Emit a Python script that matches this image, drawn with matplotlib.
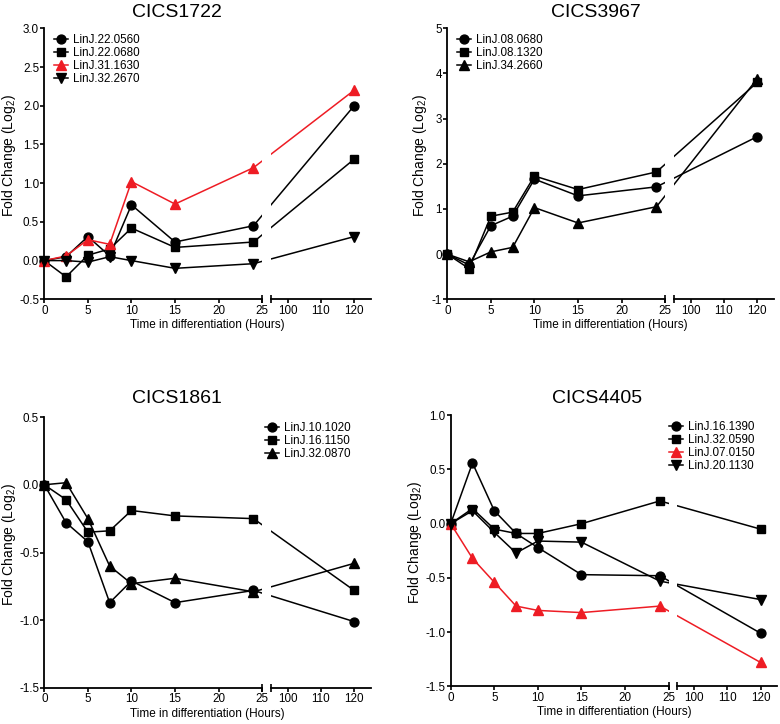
import matplotlib
matplotlib.use("Agg")
import matplotlib.pyplot as plt
import numpy as np

plt.rcParams["font.family"] = ["Liberation Sans", "DejaVu Sans"]
plt.rcParams["axes.unicode_minus"] = False
plt.rcParams["mathtext.default"] = "regular"

RED = "#ee1c24"

hours = [0, 2.5, 5, 7.5, 10, 15, 24, 120]

# CICS1722
p1_labels = ["LinJ.22.0560", "LinJ.22.0680", "LinJ.31.1630", "LinJ.32.2670"]
p1_22_0560 = [0, 0.05, 0.31, 0.06, 0.72, 0.24, 0.45, 2.0]
p1_22_0680 = [0, -0.21, 0.07, 0.15, 0.42, 0.17, 0.24, 1.31]
p1_31_1630 = [0, 0.06, 0.27, 0.21, 1.02, 0.73, 1.2, 2.2]
p1_32_2670 = [0, 0.0, -0.02, 0.05, 0.0, -0.1, -0.04, 0.31]

# CICS3967
p2_labels = ["LinJ.08.0680", "LinJ.08.1320", "LinJ.34.2660"]
p2_08_0680 = [0, -0.24, 0.63, 0.84, 1.66, 1.29, 1.49, 2.6]
p2_08_1320 = [0, -0.32, 0.84, 0.93, 1.73, 1.43, 1.82, 3.8]
p2_34_2660 = [0, -0.17, 0.05, 0.15, 1.03, 0.69, 1.05, 3.88]

# CICS1861
p3_labels = ["LinJ.10.1020", "LinJ.16.1150", "LinJ.32.0870"]
p3_10_1020 = [0, -0.28, -0.42, -0.87, -0.71, -0.87, -0.78, -1.01]
p3_16_1150 = [0, -0.11, -0.35, -0.34, -0.19, -0.23, -0.25, -0.78]
p3_32_0870 = [0, 0.015, -0.25, -0.6, -0.73, -0.69, -0.79, -0.58]

# CICS4405
p4_labels = ["LinJ.16.1390", "LinJ.32.0590", "LinJ.07.0150", "LinJ.20.1130"]
p4_16_1390 = [0, 0.56, 0.12, -0.09, -0.22, -0.47, -0.48, -1.01]
p4_32_0590 = [0, 0.14, -0.05, -0.09, -0.09, 0.0, 0.21, -0.05]
p4_07_0150 = [0, -0.32, -0.54, -0.76, -0.8, -0.82, -0.76, -1.28]
p4_20_1130 = [0, 0.12, -0.08, -0.27, -0.16, -0.17, -0.53, -0.7]

xticks = [0, 5, 10, 15, 20, 25, 100, 110, 120]

# broken x axis: 0-25 linear, short gap, then 95-125 compressed
BREAK_LO, BREAK_HI = 25, 95
GAP = 1.0
RIGHT = 0.382


def fwd(x):
    x = np.asarray(x, dtype=float)
    mid = BREAK_LO + (x - BREAK_LO) / (BREAK_HI - BREAK_LO) * GAP
    hi = BREAK_LO + GAP + (x - BREAK_HI) * RIGHT
    return np.where(x <= BREAK_LO, x, np.where(x < BREAK_HI, mid, hi))


def inv(y):
    y = np.asarray(y, dtype=float)
    mid = BREAK_LO + (y - BREAK_LO) / GAP * (BREAK_HI - BREAK_LO)
    hi = BREAK_HI + (y - BREAK_LO - GAP) / RIGHT
    return np.where(y <= BREAK_LO, y, np.where(y < BREAK_LO + GAP, mid, hi))


fig = plt.figure(figsize=(7.8, 7.24), dpi=100)
W, H = 780, 724


def make_ax(left, top, width=326.5, height=271):
    return fig.add_axes([left / W, 1 - (top + height) / H, width / W, height / H])


def style(ax, ylim, yticks, fmt, ylabel_x):
    ax.set_xscale("function", functions=(fwd, inv))
    ax.set_xlim(0, 125)
    ax.set_ylim(*ylim)
    ax.set_xticks(xticks)
    ax.set_xticklabels([str(t) for t in xticks])
    ax.set_yticks(yticks)
    ax.set_yticklabels([fmt.format(t) for t in yticks])
    for s in ["top", "right", "bottom"]:
        ax.spines[s].set_visible(False)
    ax.spines["left"].set_linewidth(1.3)
    ax.tick_params(direction="out", length=2.8, width=1.2, labelsize=8.4, pad=1)
    ax.minorticks_off()
    # hide lines crossing the break
    ax.axvspan(BREAK_LO, BREAK_HI, color="white", zorder=2.5, lw=0)
    tr = ax.get_xaxis_transform()
    for seg in ([0, BREAK_LO], [BREAK_HI, 125]):
        ax.plot(seg, [0, 0], color="black", lw=1.3, transform=tr, clip_on=False, zorder=4)
    ax.plot([BREAK_LO, BREAK_HI], [0, 0], ls="none", marker="|", ms=6, mew=1.2,
            color="black", transform=tr, clip_on=False, zorder=4)
    ax.set_xlabel("Time in differentiation (Hours)", fontsize=8.5, labelpad=2)
    ax.set_ylabel("Fold Change (Log$_2$)", fontsize=10)
    ax.yaxis.set_label_coords(ylabel_x, 0.53)


def series(ax, y, marker, label, color="black"):
    ms = 7.8 if marker in ("^", "v") else 6.4
    ax.plot(hours, y, color=color, marker=marker, ms=ms, lw=1.1, label=label,
            clip_on=False, zorder=2)


def legend(ax, loc, x, y):
    ax.legend(loc=loc, bbox_to_anchor=(x / W, 1 - y / H), bbox_transform=fig.transFigure,
              frameon=False, fontsize=8.4, handlelength=1.2, handletextpad=0.45,
              labelspacing=0.08, borderpad=0, borderaxespad=0)


# panel 1
ax1 = make_ax(44.3, 28.3)
series(ax1, p1_22_0560, "o", p1_labels[0])
series(ax1, p1_22_0680, "s", p1_labels[1])
series(ax1, p1_31_1630, "^", p1_labels[2], RED)
series(ax1, p1_32_2670, "v", p1_labels[3])
style(ax1, (-0.5, 3.0), np.arange(-0.5, 3.01, 0.5), "{:.1f}", -0.081)
legend(ax1, "upper left", 54, 34)
fig.text(177 / W, 1 - 16.7 / H, "CICS1722", ha="center", va="baseline", fontsize=14)

# panel 2
ax2 = make_ax(447.3, 28.3)
series(ax2, p2_08_0680, "o", p2_labels[0])
series(ax2, p2_08_1320, "s", p2_labels[1])
series(ax2, p2_34_2660, "^", p2_labels[2])
style(ax2, (-1, 5), np.arange(-1, 6, 1), "{:d}", -0.055)
legend(ax2, "upper left", 457, 34)
fig.text(596 / W, 1 - 17.3 / H, "CICS3967", ha="center", va="baseline", fontsize=14)

# panel 3
ax3 = make_ax(44.3, 417)
series(ax3, p3_10_1020, "o", p3_labels[0])
series(ax3, p3_16_1150, "s", p3_labels[1])
series(ax3, p3_32_0870, "^", p3_labels[2])
style(ax3, (-1.5, 0.5), np.arange(-1.5, 0.51, 0.5), "{:.1f}", -0.081)
legend(ax3, "upper right", 351, 422)
fig.text(177 / W, 1 - 402.7 / H, "CICS1861", ha="center", va="baseline", fontsize=14)

# panel 4
ax4 = make_ax(450.7, 415.3)
series(ax4, p4_16_1390, "o", p4_labels[0])
series(ax4, p4_32_0590, "s", p4_labels[1])
series(ax4, p4_07_0150, "^", p4_labels[2], RED)
series(ax4, p4_20_1130, "v", p4_labels[3])
style(ax4, (-1.5, 1.0), np.arange(-1.5, 1.01, 0.5), "{:.1f}", -0.081)
legend(ax4, "upper right", 755, 421)
fig.text(597 / W, 1 - 402.7 / H, "CICS4405", ha="center", va="baseline", fontsize=14)

fig.savefig("out.png", dpi=100)
